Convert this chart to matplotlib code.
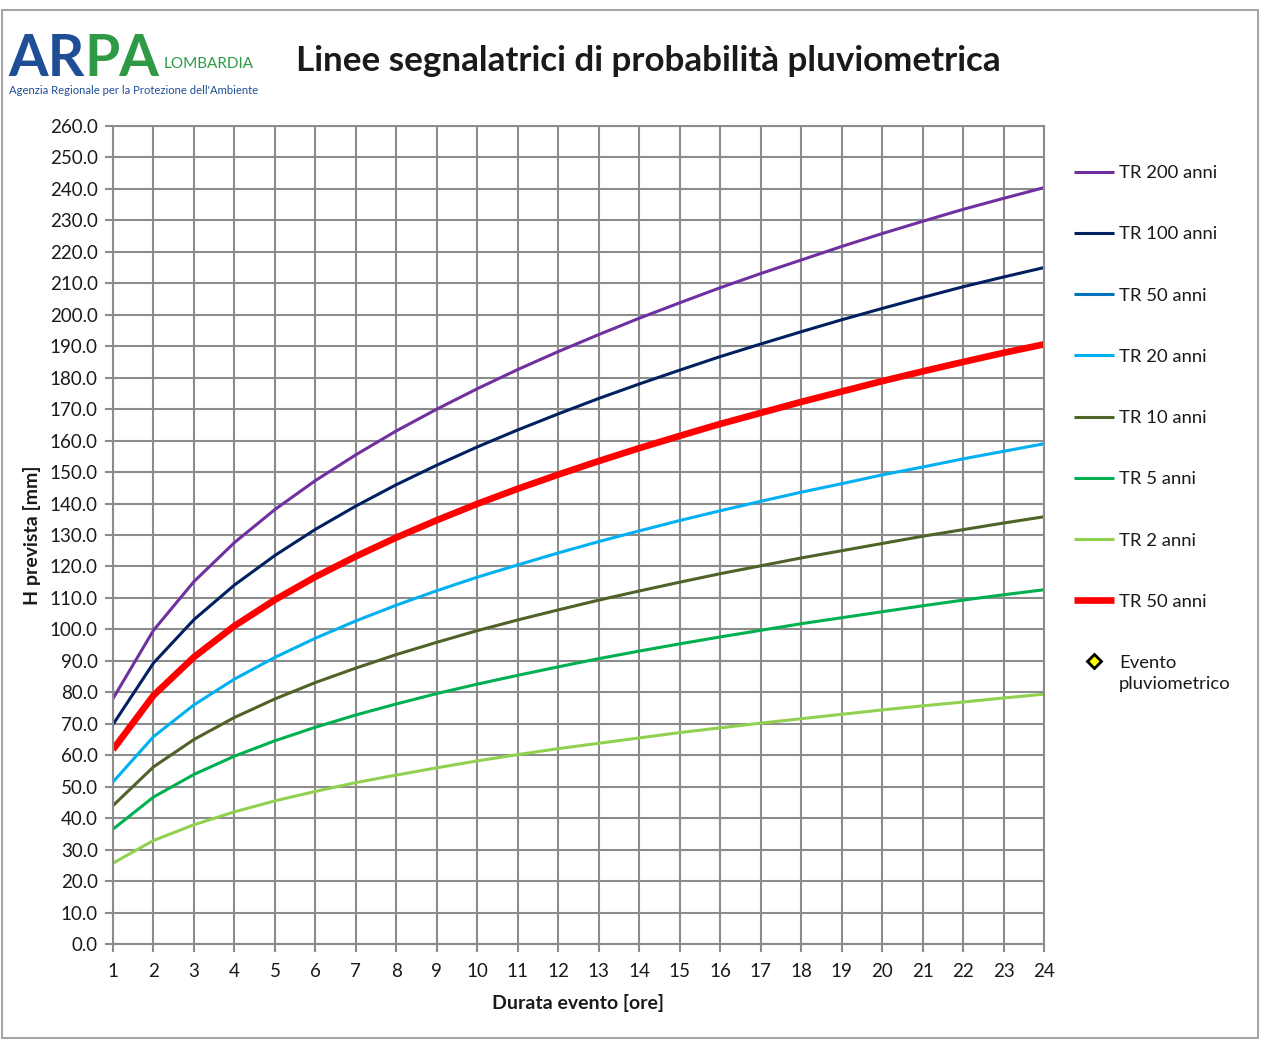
import matplotlib
matplotlib.use("Agg")
import matplotlib.pyplot as plt
from matplotlib.patches import Rectangle
from matplotlib.legend_handler import HandlerLine2D

plt.rcParams['font.family'] = ['Lato', 'DejaVu Sans']

hours = list(range(1, 25))
tr200 = [78, 99.7, 115.2, 127.6, 138.1, 147.3, 155.5, 163.1, 170.0, 176.5, 182.6, 188.3,
         193.7, 198.9, 203.8, 208.6, 213.1, 217.4, 221.7, 225.8, 229.7, 233.5, 237.0, 240.4]
tr100 = [69.8, 89.3, 103.1, 114.1, 123.5, 131.8, 139.2, 146.0, 152.2, 158.0, 163.4, 168.5,
         173.4, 178.0, 182.4, 186.7, 190.7, 194.6, 198.4, 202.0, 205.5, 208.9, 212.0, 215.0]
tr50 = [61.8, 79.0, 91.2, 101.1, 109.4, 116.7, 123.2, 129.2, 134.7, 139.9, 144.7, 149.2,
        153.5, 157.6, 161.5, 165.3, 168.8, 172.3, 175.6, 178.9, 182.0, 185.0, 187.9, 190.6]
tr20 = [51.5, 65.9, 76.0, 84.2, 91.1, 97.2, 102.7, 107.7, 112.3, 116.6, 120.5, 124.3,
        127.9, 131.3, 134.6, 137.7, 140.7, 143.6, 146.3, 149.1, 151.6, 154.2, 156.6, 159.0]
tr10 = [44.0, 56.3, 65.0, 72.0, 77.9, 83.1, 87.7, 92.0, 95.9, 99.6, 103.0, 106.2,
        109.3, 112.2, 115.0, 117.7, 120.2, 122.7, 125.0, 127.3, 129.6, 131.7, 133.8, 135.8]
tr5 = [36.5, 46.7, 53.9, 59.7, 64.6, 68.9, 72.8, 76.3, 79.6, 82.6, 85.4, 88.1,
       90.7, 93.1, 95.4, 97.6, 99.7, 101.8, 103.7, 105.6, 107.5, 109.3, 111.0, 112.6]
tr2 = [25.7, 32.9, 37.9, 42.0, 45.5, 48.5, 51.3, 53.7, 56.0, 58.2, 60.2, 62.1,
       63.8, 65.5, 67.2, 68.7, 70.2, 71.6, 73.0, 74.4, 75.7, 76.9, 78.2, 79.4]
event_x = []
event_y = []

yticks = [i * 10 for i in range(27)]

W, H = 1261, 1061
fig = plt.figure(figsize=(W / 100, H / 100), dpi=100)
fig.patch.set_facecolor('white')

# outer border
fig.add_artist(Rectangle((2 / W, 1 - 1038 / H), (1258 - 2) / W, (1038 - 10) / H,
                         transform=fig.transFigure, fill=False,
                         edgecolor='#a6a6a6', linewidth=1.5))

ax = fig.add_axes([113 / W, 1 - 944 / H, (1044 - 113) / W, (944 - 126) / H])
grid_c = '#8c8c8c'
txt_c = '#1a1a1a'
ax.set_xlim(1, 24)
ax.set_ylim(0, 260)
ax.set_xticks(hours)
ax.set_yticks(yticks)
ax.set_yticklabels([f"{v:.1f}" for v in yticks])
ax.grid(True, color=grid_c, linewidth=1.5)
ax.set_axisbelow(True)
for s in ax.spines.values():
    s.set_color(grid_c)
    s.set_linewidth(1.5)
ax.tick_params(axis='both', colors=grid_c, length=6, width=1.5,
               labelcolor=txt_c, labelsize=13.5)
ax.tick_params(axis='x', pad=8)
ax.tick_params(axis='y', pad=5)

series = [
    (tr200, '#7030A0', 2.2, 'TR 200 anni'),
    (tr100, '#002060', 2.2, 'TR 100 anni'),
    (tr50, '#0070C0', 2.2, 'TR 50 anni'),
    (tr20, '#00B0F0', 2.2, 'TR 20 anni'),
    (tr10, '#4F6228', 2.2, 'TR 10 anni'),
    (tr5, '#00B050', 2.2, 'TR 5 anni'),
    (tr2, '#92D050', 2.2, 'TR 2 anni'),
    (tr50, '#FF0000', 4.8, 'TR 50 anni'),
]
for vals, col, lw, lab in series:
    ax.plot(hours, vals, color=col, linewidth=lw, label=lab, solid_capstyle='butt')
ev, = ax.plot(event_x, event_y, linestyle='none', marker='D', markersize=7,
              markerfacecolor='#FFFF00', markeredgecolor='black', markeredgewidth=2,
              label='Evento\npluviometrico')


class TopMarkerHandler(HandlerLine2D):
    def __init__(self, dy, **kw):
        super().__init__(**kw)
        self.dy = dy

    def create_artists(self, legend, orig_handle, xdescent, ydescent, width,
                       height, fontsize, trans):
        arts = super().create_artists(legend, orig_handle, xdescent, ydescent,
                                      width, height, fontsize, trans)
        for a in arts:
            a.set_ydata([y + self.dy for y in a.get_ydata()])
        return arts


leg = ax.legend(loc='upper left', bbox_to_anchor=(1074 / W, 1 - 165 / H),
                bbox_transform=fig.transFigure, frameon=False, fontsize=13.3,
                handlelength=2.16, handletextpad=0.27, labelspacing=2.45,
                borderaxespad=0, borderpad=0,
                handler_map={ev: TopMarkerHandler(dy=9)})
for t in leg.get_texts():
    t.set_color(txt_c)
leg.get_texts()[-1].set_linespacing(1.35)

ax.set_xlabel('Durata evento [ore]', fontsize=14, fontweight='bold', labelpad=10,
              color=txt_c)
ax.set_ylabel('H prevista [mm]', fontsize=14, fontweight='bold', labelpad=6,
              color=txt_c)

fig.text(648 / W, 1 - 61 / H, 'Linee segnalatrici di probabilità pluviometrica',
         ha='center', va='center', fontsize=25.2, fontweight='bold', color=txt_c)

# logo (text approximation)
blue_logo = '#1F4E96'
green_logo = '#2E9A46'
fig.text(8 / W, 1 - 76 / H, 'AR', ha='left', va='baseline', fontsize=41,
         fontweight='bold', color=blue_logo)
fig.text(84 / W, 1 - 76 / H, 'PA', ha='left', va='baseline', fontsize=41,
         fontweight='bold', color=green_logo)
fig.text(164 / W, 1 - 64 / H, 'LOMBARDIA', ha='left', va='center', fontsize=11,
         color=green_logo)
fig.text(9 / W, 1 - 91 / H, "Agenzia Regionale per la Protezione dell'Ambiente",
         ha='left', va='center', fontsize=8.1, color=blue_logo)

fig.savefig('out.png', dpi=100)
